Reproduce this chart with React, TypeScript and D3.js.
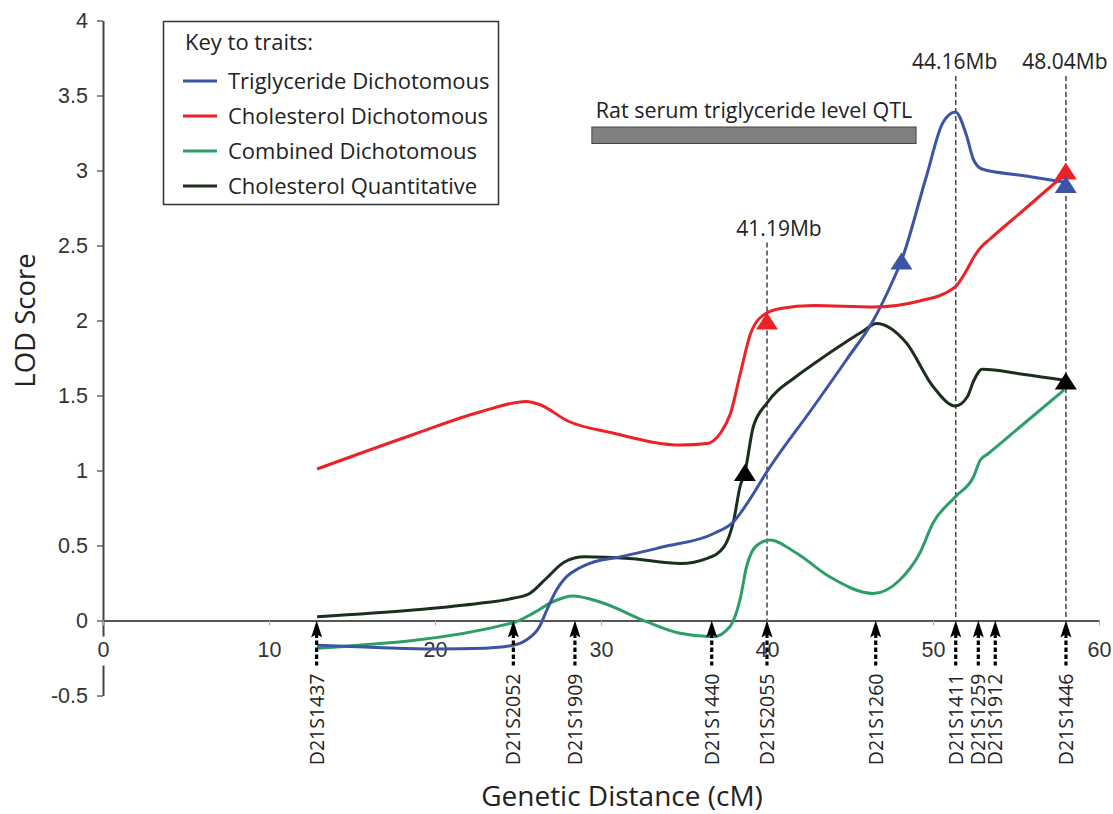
import React, { useEffect, useRef } from "react";
import * as d3 from "d3";

const WIDTH = 1113;
const HEIGHT = 814;

// LOD score traces, as [cM, LOD]
const trigDich: [number, number][] = [
  [12.9, -0.165], [16.5, -0.18], [20.0, -0.19], [23.0, -0.185], [24.7, -0.165],
  [25.5, -0.13], [26.3, -0.04], [26.7, 0.06], [27.3, 0.2], [27.9, 0.29],
  [28.7, 0.35], [29.9, 0.4], [30.7, 0.415], [33.7, 0.49], [36.8, 0.58],
  [38.0, 0.66], [38.8, 0.78], [40.1, 1.01], [42.8, 1.425], [44.8, 1.74],
  [46.4, 2.0], [47.6, 2.27], [48.1, 2.4], [49.6, 2.96], [50.6, 3.32],
  [51.35, 3.39], [52.0, 3.24], [52.45, 3.07], [52.95, 3.01], [55.5, 2.965], [58.0, 2.92],
];
const cholDich: [number, number][] = [
  [12.9, 1.01], [18.7, 1.24], [22.7, 1.39], [25.5, 1.46], [26.3, 1.44],
  [28.0, 1.33], [30.7, 1.25], [34.8, 1.17], [36.4, 1.18], [37.2, 1.25],
  [37.8, 1.38], [38.4, 1.65], [39.0, 1.91], [39.6, 2.02], [40.8, 2.08],
  [42.8, 2.1], [46.4, 2.09], [49.2, 2.13], [51.3, 2.22], [52.0, 2.33],
  [52.5, 2.43], [52.9, 2.49], [53.4, 2.54], [55.5, 2.74], [58.0, 2.98],
];
const combDich: [number, number][] = [
  [12.9, -0.185], [24.7, -0.015], [25.9, 0.048], [27.1, 0.125], [28.3, 0.163],
  [29.9, 0.125], [32.75, -0.008], [34.76, -0.085], [36.77, -0.108], [37.77, -0.04],
  [38.37, 0.137], [38.77, 0.36], [39.38, 0.5], [40.18, 0.537], [41.79, 0.448],
  [43.8, 0.29], [46.4, 0.18], [48.0, 0.27], [49.2, 0.448], [50.0, 0.65],
  [51.35, 0.825], [52.45, 0.96], [52.85, 1.07], [53.3, 1.11], [55.4, 1.305], [57.9, 1.537],
];
const cholQuant: [number, number][] = [
  [12.9, 0.025], [18.7, 0.07], [22.7, 0.115], [24.7, 0.148], [25.7, 0.18],
  [26.7, 0.28], [27.8, 0.39], [29.0, 0.425], [31.7, 0.414], [34.8, 0.38],
  [36.4, 0.414], [37.4, 0.49], [38.0, 0.67], [38.37, 0.89], [38.67, 0.99],
  [39.17, 1.29], [40.0, 1.45], [41.8, 1.63], [42.8, 1.71], [44.8, 1.86],
  [45.8, 1.93], [46.6, 1.98], [48.4, 1.85], [50.0, 1.56], [51.35, 1.43],
  [52.06, 1.49], [52.46, 1.6], [52.96, 1.675], [55.5, 1.64], [58.0, 1.6],
];

// triangle marks on the traces
const trigPeaks: [number, number][] = [[48.1, 2.4], [58.0, 2.91]];
const cholPeaks: [number, number][] = [[40.0, 2.0], [58.0, 3.0]];
const quantPeaks: [number, number][] = [[38.67, 0.99], [58.0, 1.6]];

// microsatellite markers along the x axis
const markerNames = [
  "D21S1437", "D21S2052", "D21S1909", "D21S1440", "D21S2055",
  "D21S1260", "D21S1411", "D21S1259", "D21S1912", "D21S1446",
];
const markerPos = [12.87, 24.72, 28.43, 36.67, 40.0, 46.55, 51.37, 52.73, 53.75, 58.01];

// physical positions shown over some markers
const physLabels = ["41.19Mb", "44.16Mb", "48.04Mb"];
const physMarkers = ["D21S2055", "D21S1411", "D21S1446"];
const physTop = [2.52, 3.63, 3.63];

// rat QTL interval (cM)
const qtlLabel = "Rat serum triglyceride level QTL";
const qtlRange = [29.45, 48.98];

const xTicks = [0, 10, 20, 30, 40, 50, 60];
const yTicks = [-0.5, 0, 0.5, 1, 1.5, 2, 2.5, 3, 3.5, 4];

const SERIES = [
  { name: "Triglyceride Dichotomous", color: "#3B54A4", values: trigDich, peaks: trigPeaks },
  { name: "Cholesterol Dichotomous", color: "#EC2227", values: cholDich, peaks: cholPeaks },
  { name: "Combined Dichotomous", color: "#2D9E67", values: combDich, peaks: [] as [number, number][] },
  { name: "Cholesterol Quantitative", color: "#1B2F1D", values: cholQuant, peaks: quantPeaks },
];

const SANS = "'Open Sans', 'Noto Sans', sans-serif";
const ARIAL = "'Liberation Sans', Arial, sans-serif";

const triangle = (cx, cy) =>
  `M${cx},${cy - 8}L${cx + 11},${cy + 9}L${cx - 11},${cy + 9}Z`;

const Chart = () => {
  const svgRef = useRef<SVGSVGElement>(null);

  useEffect(() => {
    const svg = d3.select(svgRef.current);
    svg.selectAll("*").remove();

    const x = d3.scaleLinear().domain([0, 60]).range([103, 1099]);
    const y = d3.scaleLinear().domain([-0.5, 4]).range([695.5, 20.5]);

    // y axis
    const yAxis = d3
      .axisLeft(y)
      .tickValues(yTicks)
      .tickFormat((d) => String(d))
      .tickSize(6)
      .tickSizeOuter(0)
      .tickPadding(9);
    const yG = svg.append("g").attr("transform", `translate(${x(0)},0)`).call(yAxis);
    yG.select(".domain").attr("stroke", "#444").attr("stroke-width", 2);
    yG.selectAll(".tick line").attr("stroke", "#666").attr("stroke-width", 1.5);
    yG.selectAll(".tick text")
      .attr("font-family", ARIAL)
      .attr("font-size", 21.5)
      .attr("fill", "#333");

    // x axis
    const xAxis = d3
      .axisBottom(x)
      .tickValues(xTicks)
      .tickSize(5)
      .tickSizeOuter(0)
      .tickPadding(16);
    const xG = svg.append("g").attr("transform", `translate(0,${y(0)})`).call(xAxis);
    xG.select(".domain").attr("stroke", "#555").attr("stroke-width", 2);
    xG.selectAll(".tick line").attr("stroke", "#aaa").attr("stroke-width", 1);
    xG.selectAll(".tick")
      .filter((d) => d === 0)
      .insert("rect", "text")
      .attr("x", -9)
      .attr("y", 16)
      .attr("width", 18)
      .attr("height", 29)
      .attr("fill", "#fff");
    xG.selectAll(".tick text")
      .attr("font-family", ARIAL)
      .attr("font-size", 21.5)
      .attr("fill", "#333");

    // axis titles
    svg
      .append("text")
      .attr("transform", `translate(35,${y(2)}) rotate(-90)`)
      .attr("text-anchor", "middle")
      .attr("font-family", SANS)
      .attr("font-size", 27.5)
      .attr("fill", "#222")
      .text("LOD Score");
    svg
      .append("text")
      .attr("x", 622)
      .attr("y", 806)
      .attr("text-anchor", "middle")
      .attr("font-family", SANS)
      .attr("font-size", 28)
      .attr("fill", "#222")
      .text("Genetic Distance (cM)");

    // QTL bar
    svg
      .append("rect")
      .attr("x", x(qtlRange[0]))
      .attr("y", y(3.29))
      .attr("width", x(qtlRange[1]) - x(qtlRange[0]))
      .attr("height", y(3.18) - y(3.29))
      .attr("fill", "#808080")
      .attr("stroke", "#444")
      .attr("stroke-width", 1);
    svg
      .append("text")
      .attr("x", (x(qtlRange[0]) + x(qtlRange[1])) / 2)
      .attr("y", y(3.29) - 9.5)
      .attr("text-anchor", "middle")
      .attr("font-family", SANS)
      .attr("font-size", 21.5)
      .attr("fill", "#222")
      .text(qtlLabel);

    // physical position guide lines
    physLabels.forEach((label, i) => {
      const px = x(markerPos[markerNames.indexOf(physMarkers[i])]);
      svg
        .append("line")
        .attr("x1", px)
        .attr("x2", px)
        .attr("y1", y(physTop[i]))
        .attr("y2", y(0))
        .attr("stroke", "#444")
        .attr("stroke-width", 1.5)
        .attr("stroke-dasharray", "5,3");
      svg
        .append("text")
        .attr("x", px + (i === 0 ? 12 : -1))
        .attr("y", y(physTop[i]) - 7)
        .attr("text-anchor", "middle")
        .attr("font-family", SANS)
        .attr("font-size", 21)
        .attr("fill", "#222")
        .text(label);
    });

    // traces
    const line = d3
      .line<[number, number]>()
      .x((d) => x(d[0]))
      .y((d) => y(d[1]))
      .curve(d3.curveMonotoneX);
    const drawOrder = [3, 2, 0, 1];
    drawOrder.forEach((i) => {
      svg
        .append("path")
        .datum(SERIES[i].values)
        .attr("d", line)
        .attr("fill", "none")
        .attr("stroke", SERIES[i].color)
        .attr("stroke-width", 3)
        .attr("stroke-linejoin", "round");
    });
    [3, 1, 0].forEach((i) => {
      svg
        .append("g")
        .selectAll("path")
        .data(SERIES[i].peaks)
        .join("path")
        .attr("d", (d) => triangle(x(d[0]), y(d[1])))
        .attr("fill", i === 3 ? "#000" : SERIES[i].color);
    });

    // marker arrows
    const mg = svg
      .append("g")
      .selectAll("g")
      .data(markerNames)
      .join("g")
      .attr("transform", (d, i) => `translate(${x(markerPos[i])},${y(0)})`);
    mg.append("line")
      .attr("y1", 13)
      .attr("y2", 45)
      .attr("stroke", "#000")
      .attr("stroke-width", 3.2)
      .attr("stroke-dasharray", "4.5,2.5");
    mg.append("path")
      .attr("d", "M0,0L5.5,17L0,13.5L-5.5,17Z")
      .attr("fill", "#000");
    mg.append("text")
      .attr("transform", "translate(7,53) rotate(-90)")
      .attr("text-anchor", "end")
      .attr("font-family", SANS)
      .attr("font-size", 19.5)
      .attr("fill", "#222")
      .text((d) => d);

    // legend
    const lg = svg.append("g");
    lg.append("rect")
      .attr("x", 163.5)
      .attr("y", 21.5)
      .attr("width", 335)
      .attr("height", 183)
      .attr("fill", "#fff")
      .attr("stroke", "#333")
      .attr("stroke-width", 1.5);
    lg.append("text")
      .attr("x", 185)
      .attr("y", 50)
      .attr("font-family", SANS)
      .attr("font-size", 22)
      .attr("fill", "#222")
      .text("Key to traits:");
    const rows = lg
      .selectAll("g.row")
      .data(SERIES)
      .join("g")
      .attr("class", "row")
      .attr("transform", (d, i) => `translate(0,${81 + i * 35})`);
    rows
      .append("line")
      .attr("x1", 183)
      .attr("x2", 217)
      .attr("stroke", (d) => d.color)
      .attr("stroke-width", 3);
    rows
      .append("text")
      .attr("x", 228)
      .attr("y", 7.5)
      .attr("font-family", SANS)
      .attr("font-size", 22)
      .attr("fill", "#222")
      .text((d) => d.name);
  }, []);

  return (
    <svg
      ref={svgRef}
      width={WIDTH}
      height={HEIGHT}
      style={{ position: "absolute", left: 0, top: 0, background: "#fff" }}
    ></svg>
  );
};

export default function App() {
  return <Chart />;
}
